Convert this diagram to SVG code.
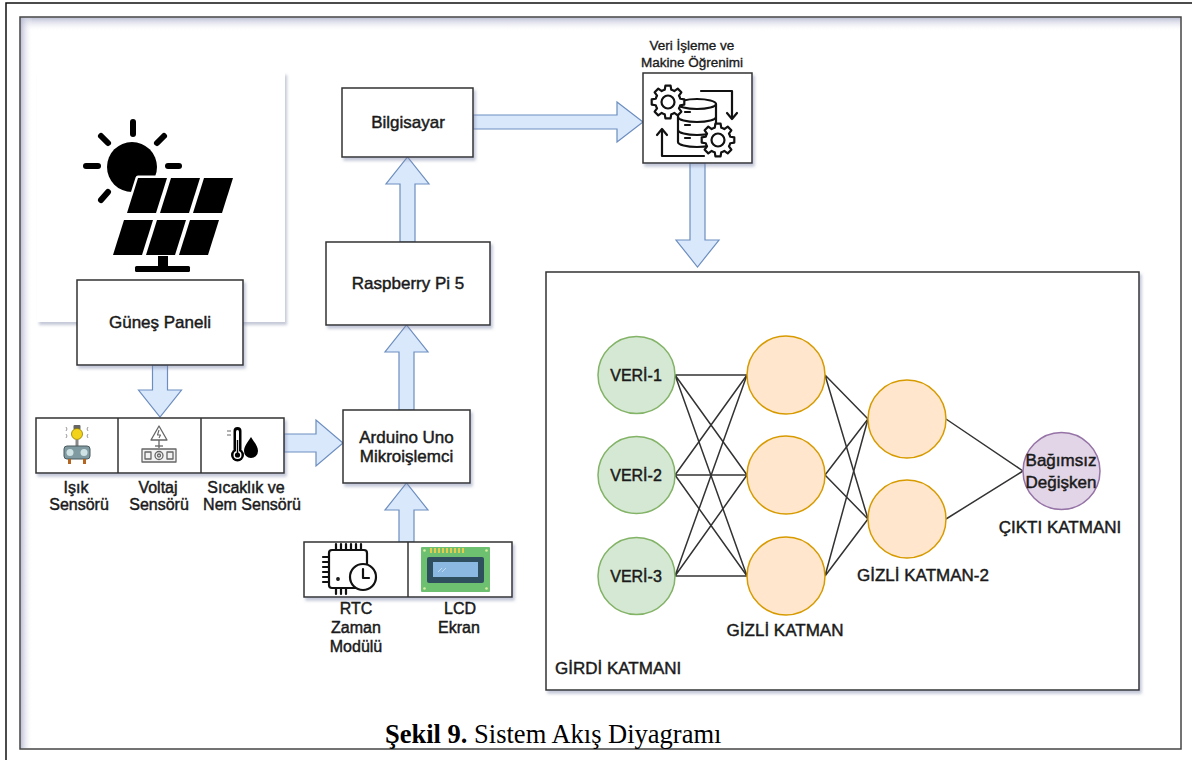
<svg xmlns="http://www.w3.org/2000/svg" width="1192" height="760" viewBox="0 0 1192 760">
  <defs>
    <style>
      .box{fill:#fff;stroke:#333;stroke-width:1.5}
      .sh{filter:url(#shadow)}
      .t{font-family:"Liberation Sans",Arial,Helvetica,sans-serif;font-size:17px;fill:#1a1a1a;text-anchor:middle;stroke:#1a1a1a;stroke-width:0.45}
      .ts{font-size:16px}
      .tx{font-size:13.5px;stroke-width:0.35}
      .tl{text-anchor:start}
      .cap{font-family:"Liberation Serif","Times New Roman",serif;font-size:26.5px;fill:#000}
      .arrow{fill:#dae8fc;stroke:#6c8ebf;stroke-width:1.2}
      .in{fill:#d5e8d4;stroke:#82b366;stroke-width:1.5}
      .hid{fill:#ffe6cc;stroke:#d79b00;stroke-width:1.5}
      .out{fill:#e1d5e7;stroke:#9673a6;stroke-width:1.5}
      .edge{stroke:#333;stroke-width:1.5;fill:none}
      .ico{fill:none;stroke:#111;stroke-width:2.2;stroke-linecap:round;stroke-linejoin:round}
      .ray{stroke:#000;stroke-width:6;stroke-linecap:round}
    </style>
    <filter id="shadow" x="-10%" y="-10%" width="130%" height="130%">
      <feDropShadow dx="2" dy="3" stdDeviation="1.8" flood-color="#7c84a8" flood-opacity="0.45"/>
    </filter>
    <linearGradient id="gTop" x1="0" y1="0" x2="0" y2="1">
      <stop offset="0" stop-color="#b4b8d0" stop-opacity="0.9"/>
      <stop offset="1" stop-color="#ffffff" stop-opacity="0"/>
    </linearGradient>
    <linearGradient id="gLeft" x1="0" y1="0" x2="1" y2="0">
      <stop offset="0" stop-color="#b4b8d0" stop-opacity="0.9"/>
      <stop offset="1" stop-color="#ffffff" stop-opacity="0"/>
    </linearGradient>
    <!-- 8-tooth gear outline, centred on the origin -->
    <path id="gear" d="M11.11,-2.98 L14.82,-2.35 L14.82,2.35 L11.11,2.98 A11.5,11.5 0 0 1 9.96,5.75 L12.14,8.82 L8.82,12.14 L5.75,9.96 A11.5,11.5 0 0 1 2.98,11.11 L2.35,14.82 L-2.35,14.82 L-2.98,11.11 A11.5,11.5 0 0 1 -5.75,9.96 L-8.82,12.14 L-12.14,8.82 L-9.96,5.75 A11.5,11.5 0 0 1 -11.11,2.98 L-14.82,2.35 L-14.82,-2.35 L-11.11,-2.98 A11.5,11.5 0 0 1 -9.96,-5.75 L-12.14,-8.82 L-8.82,-12.14 L-5.75,-9.96 A11.5,11.5 0 0 1 -2.98,-11.11 L-2.35,-14.82 L2.35,-14.82 L2.98,-11.11 A11.5,11.5 0 0 1 5.75,-9.96 L8.82,-12.14 L12.14,-8.82 L9.96,-5.75 A11.5,11.5 0 0 1 11.11,-2.98 Z"/>
  </defs>

  <!-- page background and frames -->
  <rect x="0" y="0" width="1192" height="760" fill="#fff"/>
  <rect x="6" y="3" width="1200" height="800" fill="none" stroke="#111" stroke-width="1.5"/>
  <rect x="20.5" y="17.5" width="1160" height="14" fill="url(#gTop)"/>
  <rect x="20.5" y="17.5" width="12" height="731" fill="url(#gLeft)"/>
  <rect x="20" y="17" width="1161" height="732" fill="none" stroke="#444" stroke-width="1.5"/>

  <!-- solar panel illustration -->
  <g id="solar-image">
    <rect x="37" y="72" width="248" height="250" fill="#fff" class="sh"/>
    <g>
      <circle cx="132" cy="167" r="25" fill="#000"/>
      <line class="ray" x1="133" y1="122" x2="133" y2="134"/>
      <line class="ray" x1="101" y1="136" x2="108" y2="143"/>
      <line class="ray" x1="164" y1="136" x2="157" y2="143"/>
      <line class="ray" x1="86" y1="166" x2="98" y2="166"/>
      <line class="ray" x1="168" y1="166" x2="179" y2="166"/>
      <line class="ray" x1="101" y1="200" x2="108" y2="192"/>
      <g fill="#000" stroke="#fff" stroke-width="5" paint-order="stroke" stroke-linejoin="round">
        <polygon points="138,178 167,178 156,213 127,213"/>
        <polygon points="171,178 200,178 189,213 160,213"/>
        <polygon points="204,178 233,178 222,213 193,213"/>
        <polygon points="124,220 153,220 142,255 113,255"/>
        <polygon points="157,220 186,220 175,255 146,255"/>
        <polygon points="190,220 219,220 208,255 179,255"/>
      </g>
      <rect x="158" y="256" width="10" height="11" fill="#000"/>
      <rect x="135" y="266" width="55" height="6" rx="1.5" fill="#000"/>
    </g>
  </g>

  <!-- connectors -->
  <g id="connectors">
    <path class="arrow" d="M152.5,365 H167.5 V390 H181.5 L160,417 L138.5,390 H152.5 Z"/>
    <path class="arrow" d="M284,434 H316 V420 L343,443 L316,466 V452 H284 Z"/>
    <path class="arrow" d="M399,542 V510 H385 L406.5,483 L428,510 H414 V542 Z"/>
    <path class="arrow" d="M399,410 V352 H385 L406.5,325 L428,352 H414 V410 Z"/>
    <path class="arrow" d="M400,242 V184 H386 L407.5,157 L429,184 H415 V242 Z"/>
    <path class="arrow" d="M473,115 H617 V102 L643,122 L617,142 V129 H473 Z"/>
    <path class="arrow" d="M690,163 V240 H676 L697.5,267 L719,240 H705 V163 Z"/>
  </g>

  <g id="gunes-paneli">
    <rect class="box sh" x="77" y="280" width="166" height="85"/>
    <text class="t" x="160" y="328">Güneş Paneli</text>
  </g>

  <g id="sensors">
    <rect class="box sh" x="36" y="418" width="248" height="55"/>
    <line x1="118" y1="418" x2="118" y2="473" stroke="#333" stroke-width="1.5"/>
    <line x1="201" y1="418" x2="201" y2="473" stroke="#333" stroke-width="1.5"/>
    <!-- light sensor -->
    <g id="isik-icon">
      <path d="M66,431 q2,-2 0,-4 M88,431 q-2,-2 0,-4 M66,438 q2,-2 0,-4 M88,438 q-2,-2 0,-4" fill="none" stroke="#999" stroke-width="1"/>
      <rect x="73.5" y="425" width="7" height="4.5" rx="1" fill="#666"/>
      <circle cx="77" cy="434" r="5.5" fill="#f3d31a" stroke="#8a7a00" stroke-width="0.8"/>
      <rect x="75.5" y="440" width="3" height="6" fill="#888"/>
      <rect x="64" y="446" width="26" height="13" rx="3" fill="#7f9aa0" stroke="#4a5a5e" stroke-width="1"/>
      <circle cx="70" cy="452.5" r="3.5" fill="#cfe2e4"/>
      <circle cx="84" cy="452.5" r="3.5" fill="#cfe2e4"/>
      <rect x="68" y="459" width="3" height="5" fill="#b5651d"/>
      <rect x="83" y="459" width="3" height="5" fill="#b5651d"/>
    </g>
    <text class="t ts" x="76" y="493">Işık</text>
    <text class="t ts" x="79" y="510">Sensörü</text>
    <!-- voltage sensor -->
    <g id="voltaj-icon" fill="none" stroke="#666" stroke-width="1.3" stroke-linejoin="round">
      <path d="M159,426 L167,440 L151,440 Z" fill="#fff"/>
      <path d="M159,430 L157.5,435 H160.5 L159,438" stroke-width="1.1"/>
      <line x1="159" y1="440" x2="159" y2="448"/>
      <line x1="155" y1="446" x2="163" y2="446"/>
      <rect x="142" y="449" width="34" height="13" fill="#f2f2f2"/>
      <circle cx="159" cy="455.5" r="4"/>
      <circle cx="159" cy="455.5" r="1.5"/>
      <rect x="145" y="452" width="6" height="7"/>
      <rect x="167" y="452" width="6" height="7"/>
    </g>
    <text class="t ts" x="158" y="493">Voltaj</text>
    <text class="t ts" x="159" y="510">Sensörü</text>
    <!-- temperature and humidity sensor -->
    <g id="sicaklik-icon">
      <rect x="233.5" y="427" width="8" height="26" rx="4" fill="#000"/>
      <circle cx="237.5" cy="455" r="6.5" fill="#000"/>
      <rect x="236" y="430" width="3" height="22" rx="1.5" fill="#fff"/>
      <circle cx="237.5" cy="455" r="4" fill="#fff"/>
      <circle cx="237.5" cy="455" r="2.6" fill="#000"/>
      <rect x="236.8" y="440" width="1.4" height="14" fill="#000"/>
      <path d="M227,431 h4 M227,435 h4" stroke="#666" stroke-width="1"/>
      <path d="M251,437 C254,442 258,446 258,451 A7,7 0 0 1 244,451 C244,446 248,442 251,437 Z" fill="#000"/>
    </g>
    <text class="t ts" x="246" y="493">Sıcaklık ve</text>
    <text class="t ts" x="252" y="510">Nem Sensörü</text>
  </g>

  <g id="arduino">
    <rect class="box sh" x="343" y="410" width="127" height="73"/>
    <text class="t" x="406.5" y="443">Arduino Uno</text>
    <text class="t" x="406.5" y="462">Mikroişlemci</text>
  </g>

  <g id="raspberry">
    <rect class="box sh" x="326" y="242" width="164" height="83"/>
    <text class="t" x="408" y="289">Raspberry Pi 5</text>
  </g>

  <g id="bilgisayar">
    <rect class="box sh" x="342" y="88" width="131" height="69"/>
    <text class="t" x="408" y="128">Bilgisayar</text>
  </g>

  <g id="rtc-lcd">
    <rect class="box sh" x="304" y="542" width="208" height="55"/>
    <line x1="408" y1="542" x2="408" y2="597" stroke="#333" stroke-width="1.5"/>
    <g id="rtc-icon" class="ico">
      <rect x="329" y="550" width="38" height="38" rx="3"/>
      <path d="M336,544 v5 M341,544 v5 M346,544 v5 M351,544 v5 M356,544 v5 M361,544 v5"/>
      <path d="M323,557 h5 M323,562 h5 M323,567 h5 M323,572 h5 M323,577 h5 M323,582 h5"/>
      <path d="M336,589 v5 M341,589 v5 M346,589 v5"/>
      <circle cx="363" cy="577" r="13" fill="#fff"/>
      <path d="M363,569 V578 H369"/>
      <circle cx="338" cy="579" r="0.8"/>
    </g>
    <g id="lcd-icon">
      <rect x="421" y="547" width="69" height="45" rx="1" fill="#6cc070"/>
      <path d="M431,548 v5 M435,548 v5 M439,548 v5 M443,548 v5 M447,548 v5 M451,548 v5 M455,548 v5 M459,548 v5 M463,548 v5" stroke="#e6cc4a" stroke-width="2"/>
      <rect x="427" y="557" width="57" height="26" rx="2" fill="#2f4f5f"/>
      <rect x="433" y="562" width="45" height="15" fill="#8ab8e0"/>
      <path d="M438,572 l4,-4 M442,572 l4,-4" stroke="#c0dcf2" stroke-width="1"/>
      <g fill="#d8eca0">
        <circle cx="424.5" cy="550.5" r="1.3"/><circle cx="486.5" cy="550.5" r="1.3"/>
        <circle cx="424.5" cy="588.5" r="1.3"/><circle cx="486.5" cy="588.5" r="1.3"/>
      </g>
    </g>
    <text class="t ts" x="356" y="614">RTC</text>
    <text class="t ts" x="356" y="633">Zaman</text>
    <text class="t ts" x="356" y="652">Modülü</text>
    <text class="t ts" x="460" y="614">LCD</text>
    <text class="t ts" x="459" y="633">Ekran</text>
  </g>

  <g id="veri-isleme">
    <text class="t tx" x="692" y="50">Veri İşleme ve</text>
    <text class="t tx" x="692" y="67">Makine Öğrenimi</text>
    <rect class="box sh" x="643" y="73" width="109" height="90"/>
    <g class="ico">
      <path d="M701,91 H732 V118"/>
      <path d="M727,113 L732,119 L737,113"/>
      <path d="M704,156 H662 V130"/>
      <path d="M657,135 L662,129 L667,135"/>
      <path d="M678,104 V142 A19,5 0 0 0 716,142 V104 Z" fill="#fff"/>
      <ellipse cx="697" cy="104" rx="19" ry="5" fill="#fff"/>
      <path d="M678,117 A19,5 0 0 0 716,117 M678,130 A19,5 0 0 0 716,130"/>
      <path d="M685,112 h5 M685,125 h5 M685,138 h5"/>
      <use href="#gear" transform="translate(668,102) scale(1.1)" fill="#fff" stroke-width="2"/>
      <circle cx="668" cy="102" r="6.5"/>
      <use href="#gear" transform="translate(718,140) scale(1.1)" fill="#fff" stroke-width="2"/>
      <circle cx="718" cy="140" r="6.5"/>
    </g>
  </g>

  <g id="neural-network">
    <rect class="box sh" x="546" y="272" width="593" height="418"/>
    <g id="nn-edges" class="edge">
      <path d="M675,375 L747,375 M675,375 L747,475 M675,375 L747,576"/>
      <path d="M675,475 L747,375 M675,475 L747,475 M675,475 L747,576"/>
      <path d="M675,576 L747,375 M675,576 L747,475 M675,576 L747,576"/>
      <path d="M825,375 L868,419 M825,375 L868,519"/>
      <path d="M825,475 L868,419 M825,475 L868,519"/>
      <path d="M825,576 L868,419 M825,576 L868,519"/>
      <path d="M946,419 L1023,471 M946,519 L1023,471"/>
    </g>
    <g id="input-layer">
      <circle class="in" cx="636.5" cy="375" r="38.5"/>
      <circle class="in" cx="636.5" cy="475" r="38.5"/>
      <circle class="in" cx="636.5" cy="576" r="38.5"/>
      <text class="t ts" x="636" y="381">VERİ-1</text>
      <text class="t ts" x="636" y="481">VERİ-2</text>
      <text class="t ts" x="636" y="582">VERİ-3</text>
    </g>
    <g id="hidden-layer-1">
      <circle class="hid" cx="786" cy="375" r="39"/>
      <circle class="hid" cx="786" cy="475" r="39"/>
      <circle class="hid" cx="786" cy="576" r="39"/>
    </g>
    <g id="hidden-layer-2">
      <circle class="hid" cx="907" cy="419" r="39"/>
      <circle class="hid" cx="907" cy="519" r="39"/>
    </g>
    <g id="output-layer">
      <circle class="out" cx="1061.5" cy="471" r="38.5"/>
      <text class="t" x="1061" y="466">Bağımsız</text>
      <text class="t" x="1061" y="488">Değişken</text>
    </g>
    <text class="t" x="785" y="636">GİZLİ KATMAN</text>
    <text class="t" x="923" y="581">GİZLİ KATMAN-2</text>
    <text class="t" x="1060" y="533">ÇIKTI KATMANI</text>
    <text class="t tl" x="555" y="674">GİRDİ KATMANI</text>
  </g>

  <g id="caption">
    <text class="cap" x="385" y="743"><tspan font-weight="bold">Şekil 9.</tspan> Sistem Akış Diyagramı</text>
  </g>
</svg>
